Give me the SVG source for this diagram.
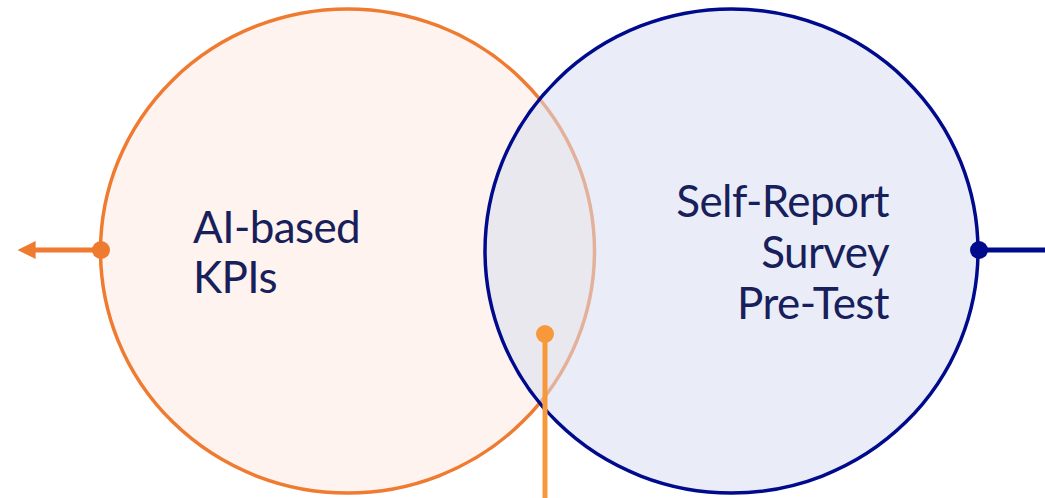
<svg xmlns="http://www.w3.org/2000/svg" width="1045" height="498" viewBox="0 0 1045 498">
  <defs>
    <style>
      .label { font-family: "Lato", "Open Sans", "Liberation Sans", sans-serif; font-size: 44px; letter-spacing: -0.6px; fill: #17205a; }
      .orange { stroke: #ef7b31; }
      .navy { stroke: #000a8c; }
    </style>
    <marker id="arrowOrange" viewBox="0 0 10 10" refX="2" refY="5" markerWidth="3.6" markerHeight="3.8" orient="auto-start-reverse" markerUnits="strokeWidth">
      <path d="M0,0 L10,5 L0,10 Z" fill="#ef7b31"/>
    </marker>
  </defs>

  <rect width="1045" height="498" fill="#ffffff"/>

  <!-- AI-based KPIs set -->
  <g id="node-ai-kpis">
    <ellipse cx="347.5" cy="251" rx="247" ry="242" fill="#fef3ee" class="orange" stroke-width="3.5"/>
    <text class="label" x="193" y="243">AI-based</text>
    <text class="label" x="193" y="293">KPIs</text>
  </g>

  <!-- Self-Report Survey Pre-Test set (translucent, overlapping) -->
  <g id="node-self-report">
    <ellipse cx="731.5" cy="251" rx="246.5" ry="242" fill="#d9def0" fill-opacity="0.55" class="navy" stroke-width="3.5"/>
    <text class="label" x="889" y="217" text-anchor="end">Self-Report</text>
    <text class="label" x="889" y="268" text-anchor="end">Survey</text>
    <text class="label" x="889" y="319" text-anchor="end">Pre-Test</text>
  </g>

  <!-- Connectors -->
  <g id="connectors" stroke-width="5" fill="none">
    <line x1="101" y1="250" x2="32" y2="250" class="orange" marker-end="url(#arrowOrange)"/>
    <circle cx="101" cy="250" r="9" fill="#ef7b31" stroke="none"/>
    <line x1="979" y1="250" x2="1045" y2="250" class="navy"/>
    <circle cx="979" cy="250" r="9" fill="#000a8c" stroke="none"/>
    <line x1="545" y1="334" x2="545" y2="498" stroke="#f7993a"/>
    <circle cx="545" cy="334" r="9" fill="#f7993a" stroke="none"/>
  </g>
</svg>
